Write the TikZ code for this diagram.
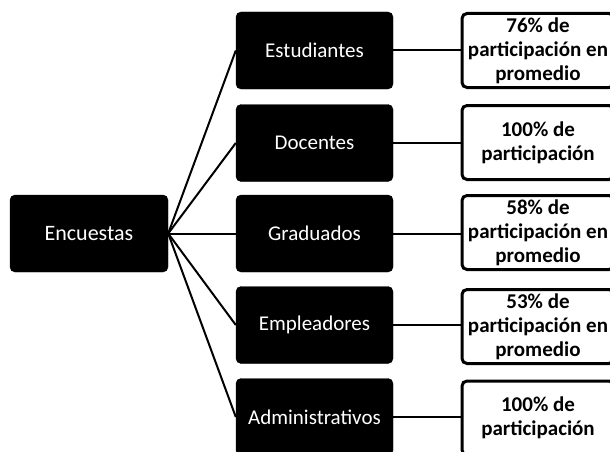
\documentclass[tikz,border=0pt]{standalone}
\usepackage{fontspec}
\setmainfont{Carlito}
\begin{document}
\begin{tikzpicture}[x=1pt,y=1pt,
  darkbox/.style={draw=black,fill=black,rounded corners=5pt,minimum width=157pt,minimum height=77pt,text=white,font=\fontsize{21}{25}\selectfont,inner sep=0pt},
  resbox/.style={draw=black,line width=3pt,fill=white,rounded corners=5pt,minimum width=152pt,minimum height=74pt,font=\bfseries\fontsize{21}{24}\selectfont,align=center,inner sep=0pt},
  link/.style={line width=2pt}]
\useasboundingbox (0,0) rectangle (610,451);
\begin{scope}
\clip (0,0) rectangle (610,451);
\node[darkbox,minimum width=158pt,font=\fontsize{22}{26}\selectfont] (enc) at (89,217.5) {Encuestas};
\node[darkbox] (est) at (314.5,400.5) {Estudiantes};
\node[darkbox] (doc) at (314.5,308) {Docentes};
\node[darkbox] (gra) at (314.5,217.5) {Graduados};
\node[darkbox] (emp) at (314.5,126) {Empleadores};
\node[darkbox] (adm) at (314.5,34) {Administrativos};
\node[resbox] (rest) at (538,400.5) {76\% de\\participación en\\promedio};
\node[resbox] (rdoc) at (538,308.5) {100\% de\\participación};
\node[resbox] (rgra) at (538,218.5) {58\% de\\participación en\\promedio};
\node[resbox] (remp) at (538,124.5) {53\% de\\participación en\\promedio};
\node[resbox] (radm) at (538,33) {100\% de\\participación};
\foreach \t in {est,doc,gra,emp,adm}{
  \draw[link] (enc.east) -- (\t.west);
}
\draw[link] (est.east) -- (est.east -| rest.west);
\draw[link] (doc.east) -- (doc.east -| rdoc.west);
\draw[link] (gra.east) -- (gra.east -| rgra.west);
\draw[link] (emp.east) -- (emp.east -| remp.west);
\draw[link] (adm.east) -- (adm.east -| radm.west);
\end{scope}
\end{tikzpicture}
\end{document}
